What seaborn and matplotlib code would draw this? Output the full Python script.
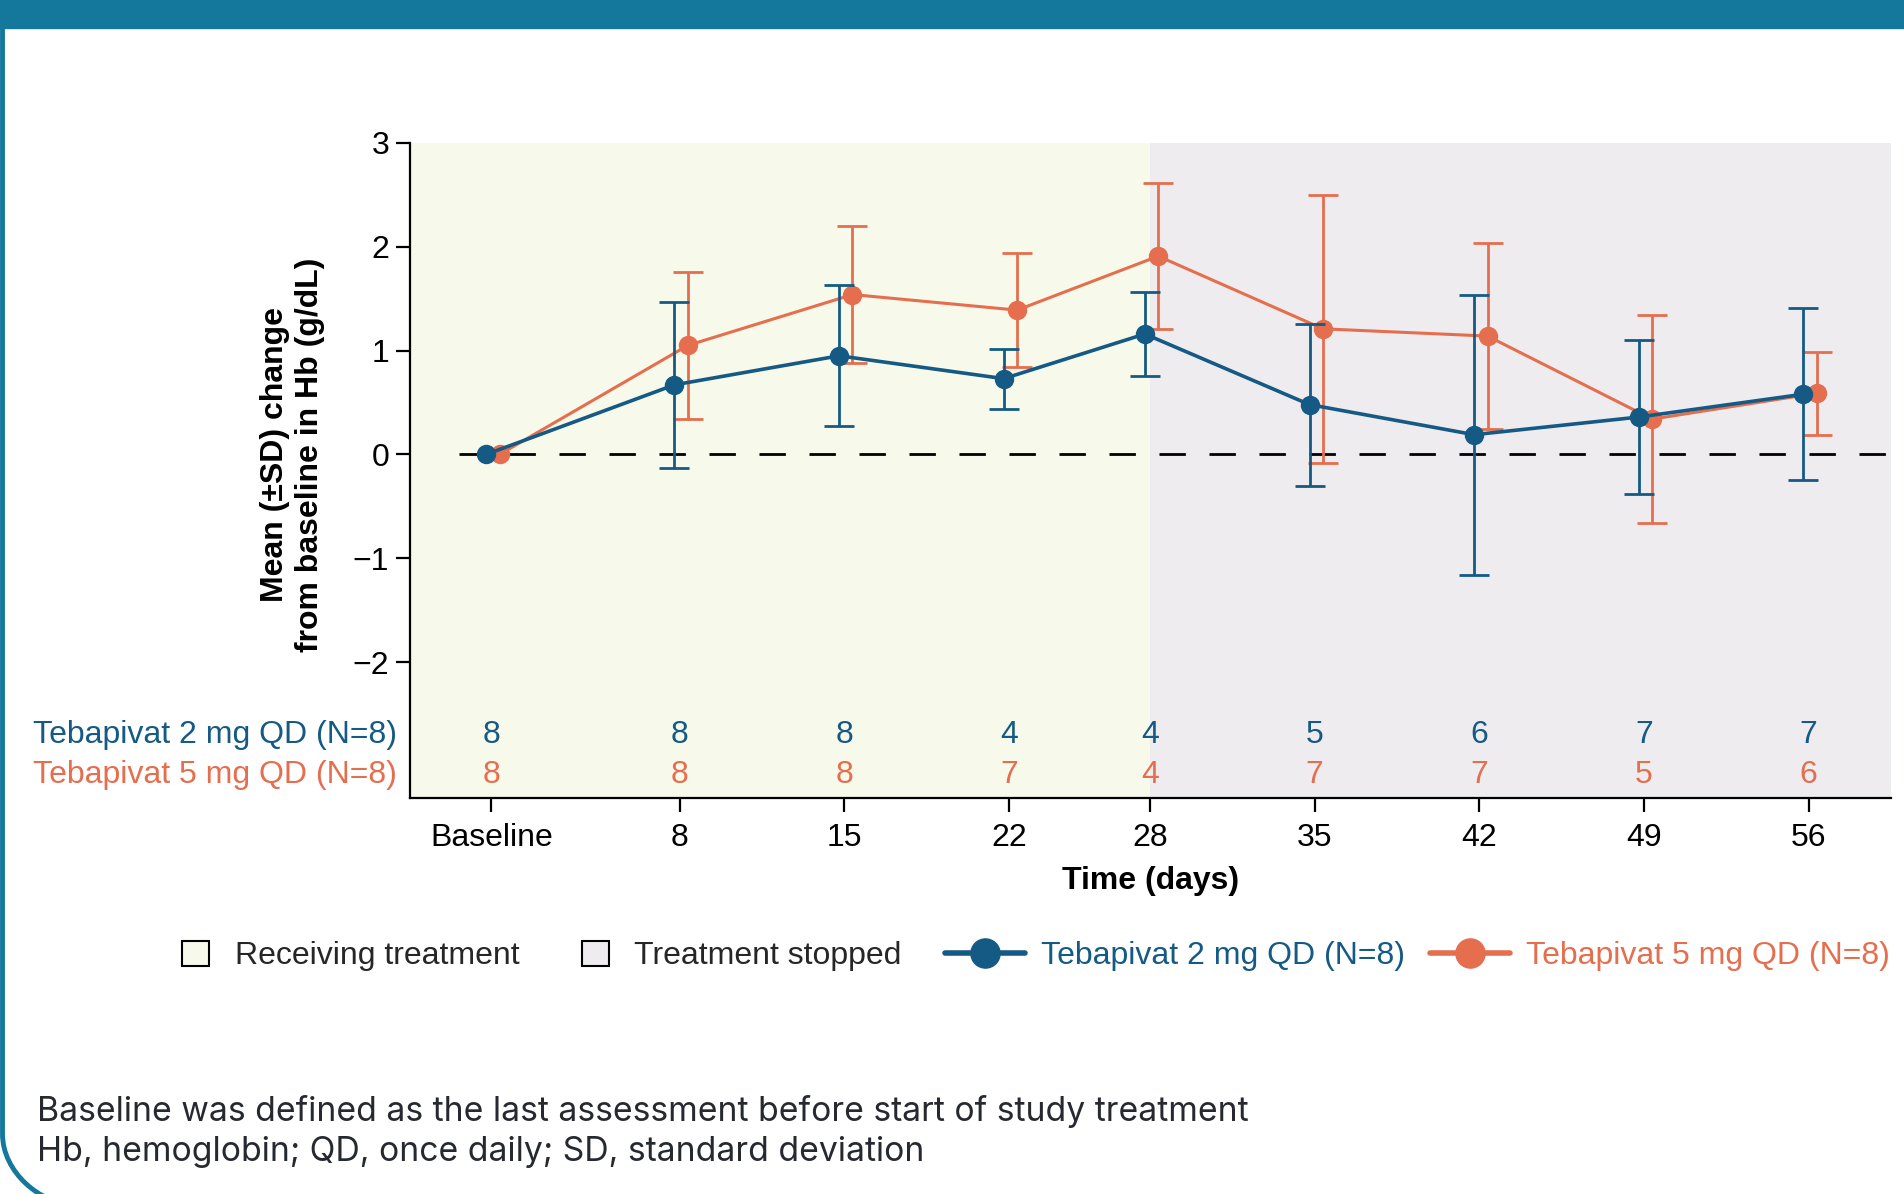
import numpy as np
import pandas as pd
import seaborn as sns
import matplotlib.pyplot as plt
from matplotlib.lines import Line2D
from matplotlib.patches import Patch, Rectangle, PathPatch
from matplotlib.path import Path
from matplotlib.transforms import IdentityTransform

# ---- data -------------------------------------------------------------
days = [0, 8, 15, 22, 28, 35, 42, 49, 56]
day_labels = ["Baseline", "8", "15", "22", "28", "35", "42", "49", "56"]

mean_2mg = [0.00, 0.67, 0.95, 0.73, 1.16, 0.48, 0.19, 0.36, 0.58]
sd_2mg = [0.00, 0.80, 0.68, 0.29, 0.40, 0.78, 1.35, 0.74, 0.83]
mean_5mg = [0.00, 1.05, 1.54, 1.39, 1.91, 1.21, 1.14, 0.34, 0.59]
sd_5mg = [0.00, 0.71, 0.66, 0.55, 0.70, 1.29, 0.90, 1.00, 0.40]

n_2mg = [8, 8, 8, 4, 4, 5, 6, 7, 7]
n_5mg = [8, 8, 8, 7, 4, 7, 7, 5, 6]

label_2mg = "Tebapivat 2 mg QD (N=8)"
label_5mg = "Tebapivat 5 mg QD (N=8)"
treatment_end_day = 28

# ---- style ------------------------------------------------------------
BLUE = "#155a84"
ORANGE = "#e56e4e"
GREEN_BG = "#f7f9ea"
GREY_BG = "#eeecef"
TEAL = "#13789c"
FS = 23

sns.set_theme(style="white")
plt.rcParams["font.family"] = ["Liberation Sans", "DejaVu Sans"]
plt.rcParams["lines.scale_dashes"] = False

W, H = 1904, 1194
fig = plt.figure(figsize=(W / 100, H / 100), dpi=100)
fig.patch.set_facecolor("white")

ax_l, ax_r, ax_t, ax_b = 410, 1891, 143, 798
ax = fig.add_axes([ax_l / W, 1 - ax_b / H, (ax_r - ax_l) / W, (ax_b - ax_t) / H])
ax.set_facecolor("none")

xmin, xmax = -3.46, 59.5
ymin, ymax = -3.31, 3.0
ax.set_xlim(xmin, xmax)
ax.set_ylim(ymin, ymax)

# treatment periods
ax.axvspan(xmin, treatment_end_day, color=GREEN_BG, zorder=0, lw=0)
ax.axvspan(treatment_end_day, xmax, color=GREY_BG, zorder=0, lw=0)

# reference line at zero
ax.axhline(0, xmin=0.033, xmax=1, color="black", lw=2.0,
           linestyle=(0, (19, 17)), zorder=1)

# series: orange drawn first so the blue series sits on top
series = [
    (label_5mg, mean_5mg, sd_5mg, ORANGE, 0.35, 2.2),
    (label_2mg, mean_2mg, sd_2mg, BLUE, -0.22, 2.6),
]
for i, (name, means, sds, col, shift, lw) in enumerate(series):
    df = pd.DataFrame({"day": np.array(days) + shift, "mean": means, "sd": sds})
    eb = df[df["sd"] > 0]
    ax.errorbar(eb["day"], eb["mean"], yerr=eb["sd"], fmt="none",
                ecolor=col, elinewidth=2.0, capsize=11, capthick=2.0,
                zorder=2 + 2 * i)
    sns.lineplot(data=df, x="day", y="mean", ax=ax, color=col, lw=lw,
                 marker="o", markersize=14, markeredgewidth=0,
                 zorder=3 + 2 * i, legend=False)

# number of patients row
row_y = {"2mg": -2.70, "5mg": -3.09}
for d, n2, n5 in zip(days, n_2mg, n_5mg):
    ax.text(d, row_y["2mg"], str(n2), color=BLUE, ha="center", va="center", fontsize=FS)
    ax.text(d, row_y["5mg"], str(n5), color=ORANGE, ha="center", va="center", fontsize=FS)
for txt, yv, col in [(label_2mg, row_y["2mg"], BLUE), (label_5mg, row_y["5mg"], ORANGE)]:
    ax.annotate(txt, xy=(0, yv), xycoords=("axes fraction", "data"),
                xytext=(-13, 0), textcoords="offset pixels",
                ha="right", va="center", color=col, fontsize=FS,
                annotation_clip=False)

# axes decoration
sns.despine(ax=ax)
for side in ("left", "bottom"):
    ax.spines[side].set_color("black")
    ax.spines[side].set_linewidth(1.6)
ax.set_xticks(days)
ax.set_xticklabels(day_labels)
ax.set_yticks([-2, -1, 0, 1, 2, 3])
ax.tick_params(axis="both", direction="out", length=10, width=1.6,
               colors="black", labelsize=FS, pad=5, left=True, bottom=True)
ax.tick_params(axis="x", pad=8)

ax.set_ylabel("Mean (\u00b1SD) change\nfrom baseline in Hb (g/dL)",
              fontsize=FS, fontweight="bold", linespacing=1.2, color="black")
ax.yaxis.set_label_coords(-0.0574, 0.524)
ax.set_xlabel("Time (days)", fontsize=FS, fontweight="bold", color="black")
ax.xaxis.set_label_coords(0.5, -0.104)
ax.xaxis.label.set_va("top")

# legends
leg_y = 1 - 956 / H
period_handles = [Patch(facecolor=GREEN_BG, edgecolor="black", lw=1.5),
                  Patch(facecolor=GREY_BG, edgecolor="black", lw=1.5)]
leg1 = fig.legend(period_handles, ["Receiving treatment", "Treatment stopped"],
                  loc="center left", bbox_to_anchor=(182 / W, leg_y), ncol=2,
                  frameon=False, fontsize=FS, handlelength=0.85,
                  handleheight=0.85, handletextpad=0.8, columnspacing=1.95,
                  borderpad=0, borderaxespad=0)
series_handles = [Line2D([], [], color=BLUE, lw=4, marker="o", markersize=21),
                  Line2D([], [], color=ORANGE, lw=4, marker="o", markersize=21)]
leg2 = fig.legend(series_handles, [label_2mg, label_5mg],
                  loc="center left", bbox_to_anchor=(945 / W, leg_y), ncol=2,
                  frameon=False, fontsize=FS, handlelength=2.5,
                  handletextpad=0.5, columnspacing=0.8, borderpad=0,
                  borderaxespad=0, labelcolor="linecolor")

# footnotes
foot = ["Baseline was defined as the last assessment before start of study treatment",
        "Hb, hemoglobin; QD, once daily; SD, standard deviation"]
for k, line in enumerate(foot):
    fig.text(37 / W, 1 - (1111.5 + 40 * k) / H, line, fontsize=24.3,
             family=["Inter", "DejaVu Sans"], color="#262a30", va="center")

# panel frame: top band and rounded left border
fig.patches.append(Rectangle((0, 1 - 28 / H), 1, 28 / H,
                             transform=fig.transFigure, color=TEAL, zorder=10))
r = 70
x0 = 2.5
verts = [(x0, H), (x0, 60), (x0, 60 - r * 0.55), (x0 + r - r * 0.45, -10 + 0),
         (x0 + r, -10)]
codes = [Path.MOVETO, Path.LINETO, Path.CURVE4, Path.CURVE4, Path.CURVE4]
fig.patches.append(PathPatch(Path(verts, codes), transform=IdentityTransform(),
                             facecolor="none", edgecolor=TEAL, lw=3.5, zorder=10))

fig.savefig("out.png", dpi=100, facecolor="white")
